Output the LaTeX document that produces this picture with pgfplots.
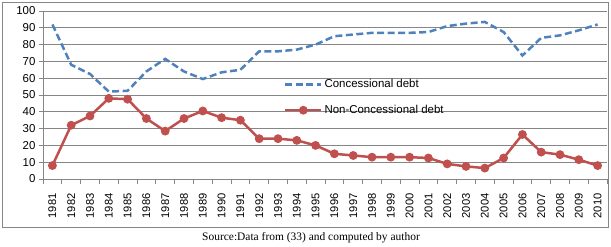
\documentclass[border=0pt]{standalone}
\usepackage{pgfplots}
\pgfplotsset{compat=1.18}
\usepackage{fontspec}
\setmainfont{Liberation Sans}
\newfontfamily\captionfont{Liberation Serif}
\definecolor{cblue}{HTML}{4F81BD}
\definecolor{cred}{HTML}{C0504D}
\definecolor{gridgray}{HTML}{868686}
\pgfplotstableread{
x year con non
0 1981 92 8
1 1982 68 32
2 1983 62.5 37.5
3 1984 52 48
4 1985 52.5 47.5
5 1986 64 36
6 1987 71.5 28.5
7 1988 64 36
8 1989 59.5 40.5
9 1990 63.5 36.5
10 1991 65 35
11 1992 76 24
12 1993 76 24
13 1994 77 23
14 1995 80 20
15 1996 85 15
16 1997 86 14
17 1998 87 13
18 1999 87 13
19 2000 87 13
20 2001 87.5 12.5
21 2002 91 9
22 2003 92.5 7.5
23 2004 93.5 6.5
24 2005 87.5 12.5
25 2006 73.5 26.5
26 2007 84 16
27 2008 85.5 14.5
28 2009 88.5 11.5
29 2010 92 8
}\datatable
\begin{document}
\begin{tikzpicture}[x=1bp,y=1bp]
\path[use as bounding box] (0,0) rectangle (611,246);
\draw[gridgray, line width=0.8bp] (2,19) rectangle (608,244);
\begin{axis}[
  at={(43bp,67bp)}, anchor=south west,
  scale only axis, width=564bp, height=168bp,
  xmin=-0.5, xmax=29.5, ymin=0, ymax=100,
  axis x line*=bottom, axis y line*=left,
  axis line style={gridgray, line width=0.8bp, -},
  xtick={0,...,29},
  xticklabels={1981,1982,1983,1984,1985,1986,1987,1988,1989,1990,1991,1992,1993,1994,1995,1996,1997,1998,1999,2000,2001,2002,2003,2004,2005,2006,2007,2008,2009,2010},
  x tick label style={rotate=90, anchor=east, font=\fontsize{11.2}{12}\selectfont},
  xticklabel shift=7bp,
  major x tick style={draw=none},
  minor xtick={-0.5,0.5,...,29.5},
  minor x tick style={gridgray, line width=0.8bp},
  minor tick length=5bp,
  xtick pos=bottom, tick align=outside,
  ytick={0,10,...,100},
  y tick label style={font=\fontsize{11.5}{12}\selectfont},
  /pgf/number format/assume math mode=true,
  major y tick style={gridgray, line width=0.8bp},
  major tick length=4bp,
  ytick pos=left,
  ymajorgrids, major grid style={gridgray, line width=0.8bp},
  legend style={draw=none, fill=none, at={(0.427,0.605)}, anchor=north west,
    font=\fontsize{11.5}{12}\selectfont, row sep=12bp, inner sep=0pt,
    /tikz/every even column/.append style={column sep=3bp}},
  legend cell align=left,
  legend image code/.code={\draw[mark repeat=2,mark phase=2,#1] plot coordinates {(0bp,0bp) (18bp,0bp) (36bp,0bp)};},
  clip=false,
]
\addplot[cblue, line width=2.5bp, dash pattern=on 7bp off 3.5bp] table[x=x,y=con] {\datatable};
\addlegendentry{Concessional debt}
\addplot[cred, line width=2.5bp, mark=*, mark size=3.1bp, mark options={solid}] table[x=x,y=non] {\datatable};
\addlegendentry{Non-Concessional debt}
\end{axis}
\node[font=\captionfont\fontsize{11.5}{12}\selectfont] at (311,8) {Source:Data from (33) and computed by author};
\end{tikzpicture}
\end{document}
